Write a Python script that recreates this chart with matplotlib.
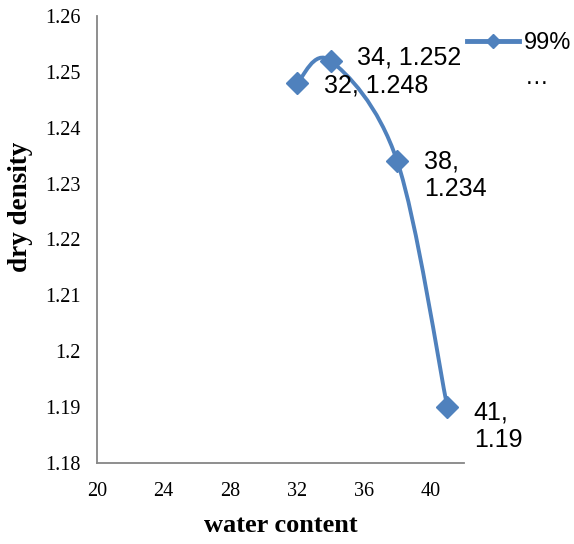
import matplotlib
matplotlib.use("Agg")
import matplotlib.pyplot as plt
from matplotlib.lines import Line2D
from matplotlib.path import Path
from matplotlib.patches import PathPatch
from matplotlib.ticker import FuncFormatter, MultipleLocator

# data
water = [32, 34, 38, 41]
density = [1.248, 1.252, 1.234, 1.19]
labels = ["32, 1.248", "34, 1.252", "38,\n1.234", "41,\n1.19"]
series_name = "99%"

blue = "#4F81BD"
grey = "#868686"

fig = plt.figure(figsize=(5.74, 5.44), dpi=100)
ax = fig.add_axes([97 / 574, 81 / 544, 367 / 574, 447 / 544])

# smoothed line (excel style bezier through the points)
pts = list(zip(water, density))
verts = [pts[0]]
codes = [Path.MOVETO]
n = len(pts)
for i in range(n - 1):
    p0 = pts[i - 1] if i > 0 else pts[i]
    p1 = pts[i]
    p2 = pts[i + 1]
    p3 = pts[i + 2] if i + 2 < n else pts[i + 1]
    c1 = (p1[0] + (p2[0] - p0[0]) / 6, p1[1] + (p2[1] - p0[1]) / 6)
    c2 = (p2[0] - (p3[0] - p1[0]) / 6, p2[1] - (p3[1] - p1[1]) / 6)
    verts += [c1, c2, p2]
    codes += [Path.CURVE4] * 3
ax.add_patch(PathPatch(Path(verts, codes), fill=False, edgecolor=blue, lw=2.8,
                       capstyle="round", joinstyle="round", zorder=2))

ax.plot(water, density, ls="none", marker="D", ms=11, color=blue, zorder=3)

# data labels (offsets in points)
offs = [(19, -2), (19, 2), (19, -10), (19, -14)]
for x, y, t, o in zip(water, density, labels, offs):
    ax.annotate(t, (x, y), xytext=o, textcoords="offset points", ha="left",
                va="center", fontsize=18, family="Liberation Sans",
                linespacing=1.2)

ax.set_xlim(20, 42)
ax.set_ylim(1.18, 1.26)
ax.xaxis.set_major_locator(MultipleLocator(4))
ax.yaxis.set_major_locator(MultipleLocator(0.01))
ax.yaxis.set_major_formatter(FuncFormatter(lambda v, p: "%g" % round(v, 3)))

for s in ["top", "right"]:
    ax.spines[s].set_visible(False)
for s in ["left", "bottom"]:
    ax.spines[s].set_color(grey)
    ax.spines[s].set_linewidth(1.3)

ax.tick_params(length=0, labelsize=14.5)
ax.tick_params(axis="x", pad=14)
ax.tick_params(axis="y", pad=12)
for lab in ax.get_xticklabels() + ax.get_yticklabels():
    lab.set_family("Liberation Serif")

ax.set_xlabel("water content", fontsize=19, fontweight="bold", family="Liberation Serif")
ax.set_ylabel("dry density", fontsize=19.5, fontweight="bold", family="Liberation Serif")
ax.xaxis.set_label_coords(0.5, -0.115)
ax.yaxis.set_label_coords(-0.174, 0.573)

handle = Line2D([], [], color=blue, lw=3.5, marker="D", ms=7)
ax.legend([handle], [series_name], loc="center left",
          bbox_to_anchor=(467 / 574, 1 - 43 / 544), bbox_transform=fig.transFigure,
          frameon=False, numpoints=1, handlelength=2.2, handletextpad=0.2,
          borderpad=0, borderaxespad=0,
          prop={"family": "Liberation Sans", "size": 17})
fig.text(525 / 574, 1 - 84 / 544, "…", fontsize=17, family="Liberation Sans",
         ha="left", va="baseline")

fig.savefig("out.png", dpi=100)
